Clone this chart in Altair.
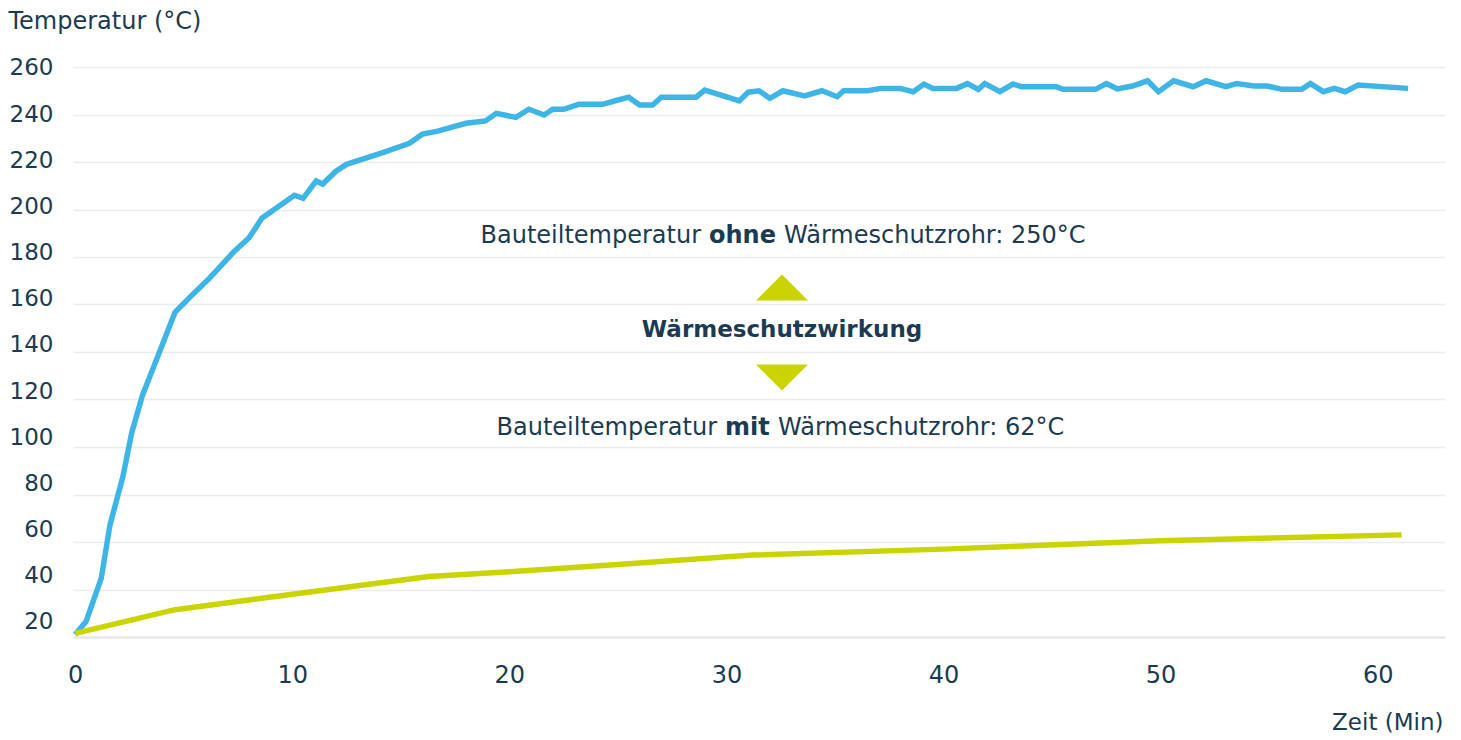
import altair as alt
import pandas as pd

# ---- data ----
blue_t = [0.0, 0.5, 1.2, 1.6, 2.2, 2.6, 3.1, 3.6, 4.6, 5.3, 6.2, 7.3, 8.0, 8.6,
          10.1, 10.5, 11.1, 11.4, 12.0, 12.5, 14.1, 15.4, 16.0, 16.7, 18.0, 18.9,
          19.4, 20.3, 20.9, 21.6, 22.0, 22.5, 23.2, 24.3, 25.0, 25.5, 26.0, 26.6,
          27.0, 28.6, 29.0, 30.6, 31.0, 31.5, 32.0, 32.6, 33.6, 34.4, 35.1, 35.4,
          36.5, 37.1, 38.0, 38.6, 39.1, 39.5, 40.6, 41.1, 41.6, 41.9, 42.6, 43.2,
          43.6, 45.2, 45.5, 47.0, 47.5, 48.0, 48.7, 49.4, 49.9, 50.6, 51.5, 52.1,
          53.0, 53.5, 54.3, 54.9, 55.6, 56.5, 56.9, 57.5, 58.0, 58.5, 59.1, 61.4]
blue_v = [21, 26.5, 44.7, 67, 87.6, 105.8, 121.8, 133.4, 156.7, 163.2, 171.2, 182.1, 188, 196.3,
          206, 204.7, 212, 210.7, 216, 219, 223.7, 227.9, 231.8, 233, 236.3, 237.3,
          240.5, 238.8, 242.2, 239.8, 242.2, 242.2, 244.3, 244.3, 246.1, 247.3, 244, 244,
          247.3, 247.3, 250.3, 245.7, 249.4, 250, 246.8, 250, 247.8, 250, 247.5, 250,
          250, 251, 251, 249.6, 252.8, 251, 251, 253, 250.6, 253, 249.6, 252.8,
          251.7, 251.7, 250.6, 250.6, 253, 250.8, 252, 254.2, 249.6, 254.2, 251.7, 254.2,
          251.7, 253, 252, 252, 250.6, 250.6, 253, 249.6, 251, 249.6, 252.4, 251]

yellow_t = [0.0, 4.6, 10.0, 13.2, 16.3, 20.0, 25.0, 31.2, 40.0, 50.0, 61.1]
yellow_v = [21.5, 31.5, 38, 41.8, 45.5, 47.5, 50.5, 54.5, 57, 60.5, 63]

x_ticks = [0, 10, 20, 30, 40, 50, 60]
y_ticks = [20, 40, 60, 80, 100, 120, 140, 160, 180, 200, 220, 240, 260]

ann_line1 = ["Bauteiltemperatur", "ohne", "Wärmeschutzrohr: 250°C"]
ann_mid = "Wärmeschutzwirkung"
ann_line3 = ["Bauteiltemperatur", "mit", "Wärmeschutzrohr: 62°C"]

# ---- styling ----
FONT = "DejaVu Sans"
TXT = "#1a3b53"
BLUE = "#3db5e6"
YEL = "#c9d400"
GRID = "#ececec"

x_scale = alt.Scale(domain=[-0.1, 63.1], nice=False, zero=False)
y_scale = alt.Scale(domain=[20, 260], nice=False, zero=False)

x_axis = alt.Axis(values=x_ticks, grid=False, ticks=False, domain=True,
                  domainColor="#e8e8e8", domainWidth=2.5, labelPadding=26,
                  labelFontSize=24, labelFont=FONT, labelColor=TXT,
                  labelFlush=False, labelOverlap=False,
                  title="Zeit (Min)", titleX=1370, titleY=85, titleAlign="right",
                  titleBaseline="middle", titleFontSize=23, titleFont=FONT,
                  titleFontWeight="normal", titleColor=TXT)
y_grid_axis = alt.Axis(values=y_ticks, grid=True, gridColor=GRID, gridWidth=1.5,
                       labels=False, ticks=False, domain=False, title=None)


def X():
    return alt.X("t:Q", scale=x_scale, axis=x_axis)


def Y(axis=None):
    if axis is None:
        return alt.Y("v:Q", scale=y_scale, axis=None)
    return alt.Y("v:Q", scale=y_scale, axis=axis)


blue_df = pd.DataFrame({"t": blue_t, "v": blue_v})
yellow_df = pd.DataFrame({"t": yellow_t, "v": yellow_v})

blue_line = alt.Chart(blue_df).mark_line(color=BLUE, strokeWidth=5.5).encode(
    x=X(), y=Y(y_grid_axis))
yellow_line = alt.Chart(yellow_df).mark_line(color=YEL, strokeWidth=5.5).encode(
    x=X(), y=Y())

# annotation anchor (data coordinates)
ANN_T = 32.56
L1_V, MID_V, L3_V = 188.8, 149.3, 108.0
UP_V, DOWN_V = 167.2, 129.3


def txt(label, v, align, dx, size=24, bold=False):
    df = pd.DataFrame({"t": [ANN_T], "v": [v], "label": [label]})
    return alt.Chart(df).mark_text(
        align=align, baseline="middle", dx=dx, font=FONT, fontSize=size,
        fontWeight="bold" if bold else "normal", color=TXT
    ).encode(x=X(), y=Y(), text="label:N")


texts = [
    txt(ann_line1[0], L1_V, "right", -81),
    txt(ann_line1[1], L1_V, "left", -73, bold=True),
    txt(ann_line1[2], L1_V, "left", 2),
    txt(ann_mid, MID_V, "center", 0, size=23, bold=True),
    txt(ann_line3[0], L3_V, "right", -65),
    txt(ann_line3[1], L3_V, "left", -57, bold=True),
    txt(ann_line3[2], L3_V, "left", -4),
]


def tri(v, path):
    df = pd.DataFrame({"t": [ANN_T], "v": [v]})
    return alt.Chart(df).mark_point(shape=path, size=2704, filled=True, opacity=1,
                                    color=YEL, strokeWidth=0).encode(x=X(), y=Y())


up = tri(UP_V, "M-1,0.5L1,0.5L0,-0.5Z")
down = tri(DOWN_V, "M-1,-0.5L1,-0.5L0,0.5Z")

# tick-label axis (labels sit slightly off the grid lines in the reference)
label_df = pd.DataFrame({"t": [0.0] * len(y_ticks), "v": y_ticks})
label_layer = alt.Chart(label_df).mark_point(opacity=0).encode(
    x=X(),
    y=alt.Y("v:Q", scale=alt.Scale(domain=[13.5, 260.43], nice=False, zero=False),
            axis=alt.Axis(values=y_ticks, orient="left", grid=False, ticks=False,
                          domain=False, labelPadding=20, labelFontSize=23,
                          labelFont=FONT, labelColor=TXT, labelAlign="right",
                          labelBaseline="middle", labelOverlap=False,
                          title="Temperatur (°C)", titleAngle=0, titleX=-65,
                          titleY=-46, titleAlign="left", titleBaseline="middle",
                          titleFontSize=24, titleFont=FONT,
                          titleFontWeight="normal", titleColor=TXT)))

chart = alt.layer(blue_line, yellow_line, *texts, up, down, label_layer).resolve_scale(
    y="independent"
).properties(
    width=1372, height=570,
    autosize=alt.AutoSizeParams(type="none"),
    padding={"left": 65, "top": 59, "right": 8, "bottom": 101},
).configure_view(strokeWidth=0)

chart.save("out.html", embed_options={"renderer": "svg", "actions": False})
